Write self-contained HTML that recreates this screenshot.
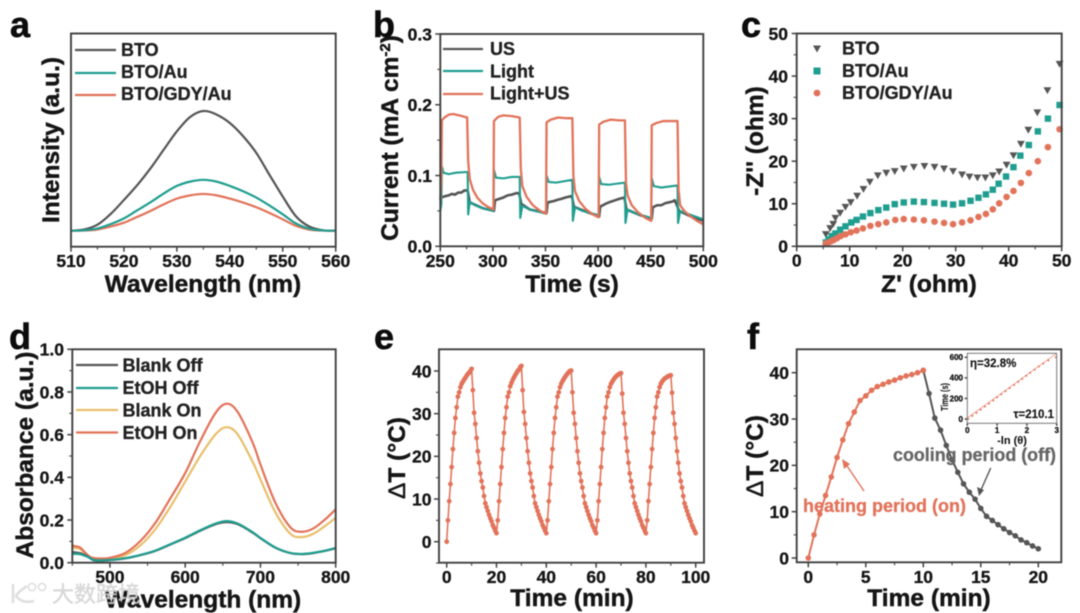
<!DOCTYPE html>
<html lang="en">
<head>
<meta charset="utf-8">
<title>Six-panel characterization figure</title>
<style>
html,body{margin:0;padding:0;background:#fff;}
body{width:1080px;height:613px;overflow:hidden;}
svg{display:block;filter:blur(.5px);font-family:"Liberation Sans","Noto Sans CJK SC",sans-serif;font-weight:bold;fill:#151515;}
text{stroke:#151515;stroke-width:.3px;}
.title{font-size:24.5px;stroke-width:.45px;}
.legend{font-size:18px;fill:#222;}
.letter{font-size:36px;fill:#0c0c0c;stroke:#0c0c0c;stroke-width:.6px;}
.frame{fill:none;stroke:#404040;stroke-width:1.9;}
.grayLabel{stroke:#666;}
.orangeLabel{stroke:#e2735a;}
.wm{stroke:#d4d4d4;stroke-width:.4px;}
</style>
</head>
<body>
<svg id="figure" width="1080" height="613" viewBox="0 0 1080 613" xmlns="http://www.w3.org/2000/svg">
<rect width="1080" height="613" fill="#fff"/>

<g>
  <text class="letter" x="10" y="37">a</text>
  <g id="marks-a"></g>
  <rect class="frame" x="71" y="33.5" width="264.7" height="213.2"/>
  <text class="title" x="203" y="292" text-anchor="middle">Wavelength (nm)</text>
  <text class="title" transform="translate(59,140) rotate(-90)" text-anchor="middle">Intensity (a.u.)</text>
  <line x1="75" x2="116" y1="50" y2="50" stroke="#555" stroke-width="2.2"/>
  <line x1="75" x2="116" y1="73" y2="73" stroke="#1f9e8f" stroke-width="2.2"/>
  <line x1="75" x2="116" y1="95" y2="95" stroke="#e2735a" stroke-width="2.2"/>
  <text class="legend" x="121" y="56">BTO</text>
  <text class="legend" x="121" y="78">BTO/Au</text>
  <text class="legend" x="121" y="100">BTO/GDY/Au</text>
</g>

<g>
  <text class="letter" x="373" y="37">b</text>
  <g id="marks-b"></g>
  <rect class="frame" x="440.3" y="34" width="263" height="212.3"/>
  <text class="title" x="572" y="292" text-anchor="middle">Time (s)</text>
  <text class="title" transform="translate(398,138) rotate(-90)" text-anchor="middle">Current (mA cm<tspan dy="-8" font-size="15">-2</tspan><tspan dy="8">)</tspan></text>
  <line x1="443" x2="483" y1="49" y2="49" stroke="#555" stroke-width="2.2"/>
  <line x1="443" x2="483" y1="71" y2="71" stroke="#1f9e8f" stroke-width="2.2"/>
  <line x1="443" x2="483" y1="94" y2="94" stroke="#e2735a" stroke-width="2.2"/>
  <text class="legend" x="490" y="55">US</text>
  <text class="legend" x="490" y="77.5">Light</text>
  <text class="legend" x="490" y="99.5">Light+US</text>
</g>

<g>
  <text class="letter" x="741" y="37">c</text>
  <g id="marks-c"></g>
  <rect class="frame" x="796.7" y="33.5" width="265" height="212.8"/>
  <text class="title" x="929" y="292" text-anchor="middle">Z&#39; (ohm)</text>
  <text class="title" transform="translate(763,141) rotate(-90)" text-anchor="middle">-Z&#39;&#39; (ohm)</text>
  <polygon points="813,45.5 821,45.5 817,52.5" fill="#555"/>
  <rect x="813.5" y="67.5" width="7" height="7" fill="#1f9e8f"/>
  <circle cx="817" cy="93" r="3.4" fill="#e2735a"/>
  <text class="legend" x="842" y="54.5">BTO</text>
  <text class="legend" x="842" y="77">BTO/Au</text>
  <text class="legend" x="842" y="99">BTO/GDY/Au</text>
</g>

<g>
  <text class="letter" x="9" y="349">d</text>
  <g id="marks-d"></g>
  <rect class="frame" x="72.3" y="349.3" width="263.4" height="213.4"/>
  <text class="title" x="203" y="607.5" text-anchor="middle">Wavelength (nm)</text>
  <text class="title" transform="translate(33,455) rotate(-90)" text-anchor="middle">Absorbance (a.u.)</text>
  <line x1="76" x2="118" y1="365" y2="365" stroke="#555" stroke-width="2.2"/>
  <line x1="76" x2="118" y1="388" y2="388" stroke="#1f9e8f" stroke-width="2.2"/>
  <line x1="76" x2="118" y1="410" y2="410" stroke="#e9bf6d" stroke-width="2.2"/>
  <line x1="76" x2="118" y1="432.5" y2="432.5" stroke="#e2735a" stroke-width="2.2"/>
  <text class="legend" x="122.5" y="371.5">Blank Off</text>
  <text class="legend" x="122.5" y="394">EtOH Off</text>
  <text class="legend" x="122.5" y="416.5">Blank On</text>
  <text class="legend" x="122.5" y="439">EtOH On</text>
</g>

<g>
  <text class="letter" x="374" y="349">e</text>
  <g id="marks-e"></g>
  <rect class="frame" x="439" y="349.3" width="265" height="213.4"/>
  <text class="title" x="572" y="606" text-anchor="middle">Time (min)</text>
  <text class="title" transform="translate(405,458) rotate(-90)" text-anchor="middle"><tspan font-weight="normal">Δ</tspan>T (°C)</text>
</g>

<g>
  <text class="letter" x="747" y="349">f</text>
  <g id="marks-f"></g>
  <rect class="frame" x="796.7" y="349.3" width="264.6" height="213"/>
  <text class="title" x="929" y="606" text-anchor="middle">Time (min)</text>
  <text class="title" transform="translate(763,456) rotate(-90)" text-anchor="middle"><tspan font-weight="normal">Δ</tspan>T (°C)</text>
  <text class="grayLabel" x="893" y="461" font-size="18.5" fill="#666" textLength="163" lengthAdjust="spacingAndGlyphs">cooling period (off)</text>
  <text class="orangeLabel" x="803" y="512" font-size="18.5" fill="#e2735a" textLength="163" lengthAdjust="spacingAndGlyphs">heating period (on)</text>
  <line x1="864" y1="491" x2="845" y2="463" stroke="#e2735a" stroke-width="1.4"/>
  <polygon points="842,459 850,464 844,469" fill="#e2735a"/>
  <line x1="990.7" y1="468" x2="980.5" y2="491" stroke="#555" stroke-width="1.4"/>
  <polygon points="979,496 977,487 984,490" fill="#555"/>

  <g>
    <rect x="967.3" y="353.3" width="89.4" height="70" fill="#fff"/>
    <g id="marks-inset"></g>
    <rect x="967.3" y="353.3" width="89.4" height="70" fill="none" stroke="#777" stroke-width="1"/>
    <text font-size="10" style="stroke-width:.1px" transform="translate(948,397) rotate(-90)" text-anchor="middle" textLength="28" lengthAdjust="spacingAndGlyphs">Time (s)</text>
    <text font-size="11" style="stroke-width:.1px" x="1012" y="444" text-anchor="middle">-ln (θ)</text>
    <text font-size="11.5" style="stroke-width:.15px" x="970" y="367">η=32.8%</text>
    <text font-size="11.5" style="stroke-width:.15px" x="1054" y="418" text-anchor="end">τ=210.1</text>
  </g>
</g>

<g opacity=".9">
  <path d="M13 584 L13 603 M27 586 Q18 592 16 596 Q22 604 34 601" fill="none" stroke="#dcdcdc" stroke-width="2.6"/>
  <circle cx="32" cy="587" r="3.6" fill="none" stroke="#dcdcdc" stroke-width="1.6"/>
  <circle cx="42" cy="587" r="3.6" fill="none" stroke="#dcdcdc" stroke-width="1.6"/>
  <text class="wm" x="52" y="602" font-size="22" font-weight="normal" fill="#d4d4d4">大数跨境</text>
</g>
</svg>

<script>
// Panel a: emission spectra
const aWavelength = [510,512.5,515,517.5,520,522.5,525,527.5,530,532.5,535,537.5,540,542.5,545,547.5,550,552.5,555,557.5,560];
const aBto = [0,1,5,14,25.7,38,52,67.6,83,95,100,97,90,79,65,46.6,28.5,12,3.5,0.4,0];
const aAuWavelength = [510,512.5,515,517.5,520,522.5,525,527.5,530,532.5,535,537.5,540,542.5,545,547.5,550,552.5,555,557.5,560];
const aAu = [0,0.3,1.8,5.5,10.3,17,23.7,31,37.4,41,42.5,41,37.4,33,27.7,21,13.7,6,1.7,0.2,0];
const aGdy = [0,0.1,1,3.5,6.7,11.5,16.5,22,26.8,29.5,30.7,29.5,26.8,23.5,19.6,14.8,9.5,4,0.9,0.1,0];
const aXTicks = [510,520,530,540,550,560];
const aXMinor = [515,525,535,545,555];

// Panel b: photocurrent
const bLightUsTime = [250,251,251.5,254,258,262,268,275.5,276.5,278,281,285,290,295,300.5,301,305,310,318,325.5,326.5,328,332,338,345,350.5,351,355,362,370,375.5,376.5,378,382,388,395,400.5,401,405,412,420,425.5,426.5,428,432,438,445,450.5,451,455,462,470,475.5,476.5,478,482,488,495,500];
const bLightUs = [0.065,0.10,0.178,0.182,0.186,0.187,0.185,0.182,0.12,0.095,0.08,0.069,0.061,0.056,0.052,0.177,0.183,0.185,0.184,0.182,0.11,0.085,0.07,0.058,0.05,0.046,0.175,0.179,0.182,0.181,0.181,0.10,0.078,0.064,0.053,0.045,0.041,0.172,0.176,0.179,0.178,0.178,0.09,0.072,0.058,0.048,0.04,0.036,0.171,0.174,0.177,0.177,0.177,0.08,0.058,0.05,0.042,0.035,0.031];
const bLightTime = [250,251,251.5,253,258,265,275.5,276,276.5,278,283,290,300.5,301,303,310,318,325.5,326,328,335,350.5,351,353,360,375.5,376,378,385,400.5,401,403,410,425.5,426,428,435,450.5,451,453,460,475.5,476,478,485,500];
const bLight = [0.05,0.06,0.113,0.104,0.102,0.104,0.105,0.105,0.045,0.063,0.058,0.054,0.05,0.108,0.097,0.096,0.098,0.098,0.04,0.057,0.052,0.046,0.1,0.091,0.09,0.094,0.036,0.055,0.05,0.044,0.098,0.088,0.087,0.09,0.033,0.052,0.047,0.04,0.096,0.085,0.083,0.086,0.033,0.05,0.046,0.038];
const bUsTime = [251,255,258,261,264,267,270,273,276,278,290,301,302,306,310,314,318,322,325,327,335,351,352,358,362,365,369,372,375,377,390,401,402,407,412,416,420,425,427,440,451,452,456,460,464,467,470,473,477,490,500];
const bUs = [0.069,0.071,0.072,0.074,0.073,0.076,0.076,0.079,0.079,0.062,0.054,0.05,0.065,0.067,0.069,0.072,0.073,0.075,0.075,0.06,0.052,0.047,0.062,0.064,0.066,0.067,0.069,0.07,0.071,0.056,0.048,0.042,0.056,0.06,0.063,0.065,0.067,0.069,0.052,0.044,0.039,0.055,0.058,0.058,0.061,0.062,0.063,0.065,0.05,0.041,0.036];
const bXTicks = [250,300,350,400,450,500];
const bXMinor = [275,325,375,425,475];
const bYTicks = [0,0.1,0.2,0.3];
const bYLabels = ['0.0','0.1','0.2','0.3'];
const bYMinor = [0.05,0.15,0.25];

// Panel c: Nyquist plots
const cBtoRe = [5.5,6.3,6.9,7.3,8.2,9.2,10.2,11.4,12.6,13.8,15.3,16.9,18.5,20.2,22.1,24.1,26,27.8,29.5,31.2,32.6,34.1,35.6,37,38.2,39.6,40.9,42.3,43.7,45.4,47.3,49.6];
const cBtoIm = [2.8,4.2,5.2,6.6,7.8,9.2,10.3,11.8,13.4,15.1,16.6,17.2,17.6,18.2,18.6,18.8,18.6,18.2,17.6,16.8,16.3,16.1,16.1,16.6,17.5,19.1,21.3,24,27.3,31.4,36.6,42.8];
const cAuRe = [5.5,6,6.6,7.3,8.2,9.2,10.3,11.3,12.5,13.9,15.4,16.9,18.5,20.2,22.1,24,26,27.8,29.5,31.2,32.8,34.3,35.7,37,38.1,39.5,40.9,42.2,43.8,45.5,47.4,49.6];
const cAuIm = [0.9,1.6,2.4,3,3.9,4.7,5.6,6.2,7,7.8,8.5,9.1,9.9,10.3,10.5,10.4,10.2,10,9.8,10.1,10.7,11.4,12.2,13.3,14.7,16.4,18.6,21.3,23.8,27,30,33.2];
const cGdyRe = [5.5,6,6.5,7,7.6,8.3,9.2,10.2,11.3,12.5,13.9,15.4,16.9,18.6,20.2,22.1,24,26,27.8,29.5,31.2,32.8,34.3,35.7,37,38.2,39.6,40.9,42.3,43.8,45.5,47.4,49.6];
const cGdyIm = [0.7,0.9,1.2,1.5,1.9,2.4,2.8,3.3,3.7,4.2,4.8,5.2,5.6,6.2,6.4,6.3,6.1,5.8,5.5,5.2,5.6,6.1,6.9,7.6,8.7,10.1,11.6,13,14.9,17.2,20,23.3,27.5];
const cTicks = [0,10,20,30,40,50];
const cMinor = [5,15,25,35,45];

// Panel d: absorbance spectra
const dOnWavelength = [450,460,465,475,490,500,520,540,560,580,600,620,640,655,670,690,700,720,740,755,770,785,800];
const dEtohOn = [0.08,0.072,0.055,0.025,0.02,0.023,0.045,0.1,0.185,0.3,0.42,0.57,0.7,0.745,0.705,0.56,0.46,0.28,0.165,0.145,0.16,0.2,0.25];
const dBlankOn = [0.07,0.065,0.05,0.022,0.017,0.018,0.035,0.08,0.155,0.26,0.38,0.5,0.6,0.635,0.6,0.47,0.39,0.235,0.135,0.12,0.135,0.17,0.21];
const dOffWavelength = [450,460,470,480,500,520,540,560,580,600,620,640,655,670,690,700,720,740,755,770,785,800];
const dBlankOff = [0.05,0.045,0.03,0.01,0.012,0.02,0.035,0.055,0.085,0.115,0.15,0.18,0.19,0.18,0.14,0.115,0.07,0.045,0.04,0.045,0.055,0.068];
const dEtohOff = [0.042,0.04,0.028,0.012,0.013,0.021,0.036,0.056,0.086,0.117,0.152,0.183,0.195,0.183,0.142,0.116,0.071,0.045,0.041,0.046,0.056,0.069];
const dXTicks = [500,600,700,800];
const dXMinor = [450,550,650,750];
const dYTicks = [0,0.2,0.4,0.6,0.8,1];
const dYLabels = ['0.0','0.2','0.4','0.6','0.8','1.0'];
const dYMinor = [0.1,0.3,0.5,0.7,0.9];

// Panel e: five photothermal cycles, one reading every half minute
const eSampleStep = 0.5;
const eDeltaT = [
0,5,9.5,13.5,17.5,21.7,25.5,29,31.5,34,35,36.2,37,37.5,38,38.4,38.9,39.3,39.6,40,40.5,
35.5,30.2,27.6,24.3,21.2,18.5,16,14.2,12.7,10.7,9,8.1,7.2,6.3,5.5,4.8,3.9,3.3,2.6,2,
5,9.5,13.5,17.5,21.7,25.5,29,31.5,34,35,36.4,37.2,37.9,38.5,39,39.5,40,40.3,40.9,41.2,
35.5,30.4,27.6,24.3,21.2,18.5,16,14.2,12.7,10.7,9,8.1,7.2,6.3,5.5,4.8,3.9,3.3,2.6,2,
5,9.5,13.5,17.5,21.7,25.5,29,31.5,34,35,36.2,37,37.6,38.1,38.6,39,39.4,39.7,40,40.1,
35,30.2,27.6,24.3,21.2,18.5,16,14.2,12.7,10.7,9,8.1,7.2,6.3,5.5,4.8,3.9,3.3,2.6,2,
5,9.5,13.5,17.5,21.7,25.5,29,31.5,34,35,36.2,37,37.5,38,38.4,38.7,39,39.2,39.4,39.5,
34.7,30.2,27.6,24.3,21.2,18.5,16,14.2,12.7,10.7,9,8.1,7.2,6.3,5.5,4.8,3.9,3.3,2.6,2,
5,9.5,13.5,17.5,21.7,25.5,29,31.5,34,35,36.2,37,37.5,37.9,38.2,38.4,38.6,38.8,38.9,39,
34.9,30.2,27.6,24.3,21.2,18.5,16,14.2,12.7,10.7,9,8.1,7.2,6.3,5.5,4.8,3.9,3.3,2.6,2
];
const eXTicks = [0,20,40,60,80,100];
const eXMinor = [10,30,50,70,90];
const eYTicks = [0,10,20,30,40];
const eYMinor = [-5,5,15,25,35];

// Panel f: heating and cooling curves
const fHeatTime = [0,0.5,1,1.5,2,2.5,3,3.5,4,4.5,5,5.5,6,6.5,7,7.5,8,8.5,9,9.5,10];
const fHeat = [0,5,9.5,13.5,17.5,21.7,25.5,29,31.5,34,35,36.2,37,37.5,38,38.4,38.9,39.3,39.6,40,40.5];
const fCoolTime = [10,10.5,11,11.5,12,12.5,13,13.5,14,14.5,15,15.5,16,16.5,17,17.5,18,18.5,19,19.5,20];
const fCool = [40.5,35.5,30.2,27.6,24.3,21.2,18.5,16,14.2,12.7,10.7,9,8.1,7.2,6.3,5.5,4.8,3.9,3.3,2.6,2];
const fXTicks = [0,5,10,15,20];
const fXMinor = [2.5,7.5,12.5,17.5];
const fYTicks = [0,10,20,30,40];
const fYMinor = [5,15,25,35];

// Inset: time against -ln(theta)
const insetTheta = [0.03,0.17,0.31,0.45,0.59,0.73,0.87,1.0,1.14,1.28,1.42,1.57,1.71,1.84,1.98,2.11,2.26,2.4,2.55,2.72,2.97];
const insetTime = [0,30,60,90,120,150,180,210,240,270,300,330,360,390,420,450,480,510,540,570,600];
const insetFitTheta = [0,3];
const insetFitTime = [10,640];
const insetXTicks = [0,1,2,3];
const insetYTicks = [0,200,400,600];

const NS = 'http://www.w3.org/2000/svg';
const GRAY = '#555', TEAL = '#1f9e8f', ORANGE = '#e2735a', YELLOW = '#e9bf6d';

function scale(d0, d1, r0, r1) {
  return function (v) { return r0 + (v - d0) * (r1 - r0) / (d1 - d0); };
}
function add(parent, tag, attrs, name) {
  const node = document.createElementNS(NS, tag);
  Object.keys(attrs).forEach(function (k) { node.setAttribute(k, attrs[k]); });
  
  
  parent.appendChild(node);
  return node;
}
function straightPath(xs, ys, sx, sy) {
  return xs.map(function (v, i) {
    return (i ? 'L' : 'M') + sx(v).toFixed(2) + ' ' + sy(ys[i]).toFixed(2);
  }).join('');
}
function smoothPath(xs, ys, sx, sy) {
  const p = xs.map(function (v, i) { return [sx(v), sy(ys[i])]; });
  let d = 'M' + p[0][0].toFixed(2) + ' ' + p[0][1].toFixed(2);
  for (let i = 0; i < p.length - 1; i++) {
    const a = p[Math.max(i - 1, 0)], b = p[i], c = p[i + 1], e = p[Math.min(i + 2, p.length - 1)];
    d += 'C' + (b[0] + (c[0] - a[0]) / 6).toFixed(2) + ' ' + (b[1] + (c[1] - a[1]) / 6).toFixed(2) + ' ' +
      (c[0] - (e[0] - b[0]) / 6).toFixed(2) + ' ' + (c[1] - (e[1] - b[1]) / 6).toFixed(2) + ' ' +
      c[0].toFixed(2) + ' ' + c[1].toFixed(2);
  }
  return d;
}
function curve(g, d, color, width, name) {
  add(g, 'path', { d: d, fill: 'none', stroke: color, 'stroke-width': width, 'stroke-linejoin': 'round' }, name);
}
function xAxis(g, sx, baseY, ticks, labels, minor, labelY, size, len) {
  ticks.forEach(function (t, i) {
    add(g, 'line', { x1: sx(t), x2: sx(t), y1: baseY, y2: baseY + len, stroke: '#404040', 'stroke-width': 1.5 }, 'x-tick');
    const label = add(g, 'text', { x: sx(t), y: labelY, 'text-anchor': 'middle', 'font-size': size }, 'x-tick-label');
    label.textContent = labels ? labels[i] : String(t);
  });
  minor.forEach(function (t) {
    add(g, 'line', { x1: sx(t), x2: sx(t), y1: baseY, y2: baseY + len * 0.6, stroke: '#404040', 'stroke-width': 1.1 }, 'x-minor-tick');
  });
}
function yAxis(g, sy, baseX, ticks, labels, minor, labelX, size, len) {
  ticks.forEach(function (t, i) {
    add(g, 'line', { x1: baseX - len, x2: baseX, y1: sy(t), y2: sy(t), stroke: '#404040', 'stroke-width': 1.5 }, 'y-tick');
    const label = add(g, 'text', { x: labelX, y: sy(t) + size * 0.36, 'text-anchor': 'end', 'font-size': size }, 'y-tick-label');
    label.textContent = labels ? labels[i] : String(t);
  });
  minor.forEach(function (t) {
    add(g, 'line', { x1: baseX - len * 0.6, x2: baseX, y1: sy(t), y2: sy(t), stroke: '#404040', 'stroke-width': 1.1 }, 'y-minor-tick');
  });
}
function dots(g, xs, ys, sx, sy, r, color, name) {
  xs.forEach(function (v, i) {
    add(g, 'circle', { cx: sx(v).toFixed(2), cy: sy(ys[i]).toFixed(2), r: r, fill: color }, name);
  });
}

(function panelA() {
  const g = document.getElementById('marks-a');
  const sx = scale(510, 560, 71, 335.7);
  const sy = scale(0, 100, 230.7, 111);
  xAxis(g, sx, 246.7, aXTicks, null, aXMinor, 267, 17.5, 5);
  curve(g, smoothPath(aWavelength, aBto, sx, sy), GRAY, 2.2, 'series-bto');
  curve(g, smoothPath(aAuWavelength, aGdy, sx, sy), ORANGE, 2.2, 'series-bto-gdy-au');
  curve(g, smoothPath(aAuWavelength, aAu, sx, sy), TEAL, 2.2, 'series-bto-au');
})();

(function panelB() {
  const g = document.getElementById('marks-b');
  const sx = scale(250, 500, 440.3, 703.3);
  const sy = scale(0, 0.3, 246.3, 34);
  xAxis(g, sx, 246.3, bXTicks, null, bXMinor, 267, 17.5, 5);
  yAxis(g, sy, 440.3, bYTicks, bYLabels, bYMinor, 432, 17.5, 5);
  curve(g, straightPath(bUsTime, bUs, sx, sy), GRAY, 2.6, 'series-us');
  curve(g, straightPath(bLightTime, bLight, sx, sy), TEAL, 2.1, 'series-light');
  curve(g, straightPath(bLightUsTime, bLightUs, sx, sy), ORANGE, 2.3, 'series-light-us');
})();

(function panelC() {
  const g = document.getElementById('marks-c');
  const sx = scale(0, 50, 796.7, 1061.7);
  const sy = scale(0, 50, 246.3, 33.5);
  xAxis(g, sx, 246.3, cTicks, null, cMinor, 266.5, 17.5, 5);
  yAxis(g, sy, 796.7, cTicks, null, cMinor, 788, 17.5, 5);
  cBtoRe.forEach(function (v, i) {
    const x = sx(v), y = sy(cBtoIm[i]);
    add(g, 'polygon', {
      points: (x - 3.9) + ',' + (y - 3.3) + ' ' + (x + 3.9) + ',' + (y - 3.3) + ' ' + x + ',' + (y + 3.6),
      fill: GRAY
    }, 'point-bto');
  });
  cAuRe.forEach(function (v, i) {
    add(g, 'rect', { x: sx(v) - 3.2, y: sy(cAuIm[i]) - 3.2, width: 6.4, height: 6.4, fill: TEAL }, 'point-bto-au');
  });
  dots(g, cGdyRe, cGdyIm, sx, sy, 3.3, ORANGE, 'point-bto-gdy-au');
})();

(function panelD() {
  const g = document.getElementById('marks-d');
  const sx = scale(450, 800, 72.3, 335.7);
  const sy = scale(0, 1, 562.7, 349.3);
  xAxis(g, sx, 562.7, dXTicks, null, dXMinor, 583, 17.5, 5);
  yAxis(g, sy, 72.3, dYTicks, dYLabels, dYMinor, 64, 17.5, 5);
  curve(g, smoothPath(dOnWavelength, dBlankOn, sx, sy), YELLOW, 2.2, 'series-blank-on');
  curve(g, smoothPath(dOnWavelength, dEtohOn, sx, sy), ORANGE, 2.2, 'series-etoh-on');
  curve(g, smoothPath(dOffWavelength, dBlankOff, sx, sy), GRAY, 2.2, 'series-blank-off');
  curve(g, smoothPath(dOffWavelength, dEtohOff, sx, sy), TEAL, 2.2, 'series-etoh-off');
})();

(function panelE() {
  const g = document.getElementById('marks-e');
  const sx = scale(0, 100, 446.7, 695.7);
  const sy = scale(0, 40, 541.7, 371);
  xAxis(g, sx, 562.7, eXTicks, null, eXMinor, 583, 17.5, 5);
  yAxis(g, sy, 439, eYTicks, null, eYMinor, 431.5, 17.5, 5);
  const times = eDeltaT.map(function (_, i) { return i * eSampleStep; });
  curve(g, straightPath(times, eDeltaT, sx, sy), ORANGE, 1.6, 'series-delta-t');
  dots(g, times, eDeltaT, sx, sy, 2.4, ORANGE, 'point-delta-t');
})();

(function panelF() {
  const g = document.getElementById('marks-f');
  const sx = scale(0, 20, 808.3, 1038.3);
  const sy = scale(0, 40, 558, 372.7);
  xAxis(g, sx, 562.3, fXTicks, null, fXMinor, 583, 17.5, 5);
  yAxis(g, sy, 796.7, fYTicks, null, fYMinor, 789, 17.5, 5);
  curve(g, straightPath(fCoolTime, fCool, sx, sy), GRAY, 2, 'series-cooling');
  dots(g, fCoolTime, fCool, sx, sy, 2.8, GRAY, 'point-cooling');
  curve(g, straightPath(fHeatTime, fHeat, sx, sy), ORANGE, 2, 'series-heating');
  dots(g, fHeatTime, fHeat, sx, sy, 2.8, ORANGE, 'point-heating');
})();

(function inset() {
  const g = document.getElementById('marks-inset');
  const sx = scale(0, 3, 967.3, 1056.7);
  const sy = scale(0, 600, 419, 357.3);
  xAxis(g, sx, 423.3, insetXTicks, null, [], 433, 8, 2.5);
  yAxis(g, sy, 967.3, insetYTicks, null, [], 963, 8, 2.5);
  curve(g, straightPath(insetFitTheta, insetFitTime, sx, sy), '#ee9a87', 0.9, 'inset-fit-line');
  dots(g, insetTheta, insetTime, sx, sy, 1, ORANGE, 'inset-point');
})();
</script>
</body>
</html>
